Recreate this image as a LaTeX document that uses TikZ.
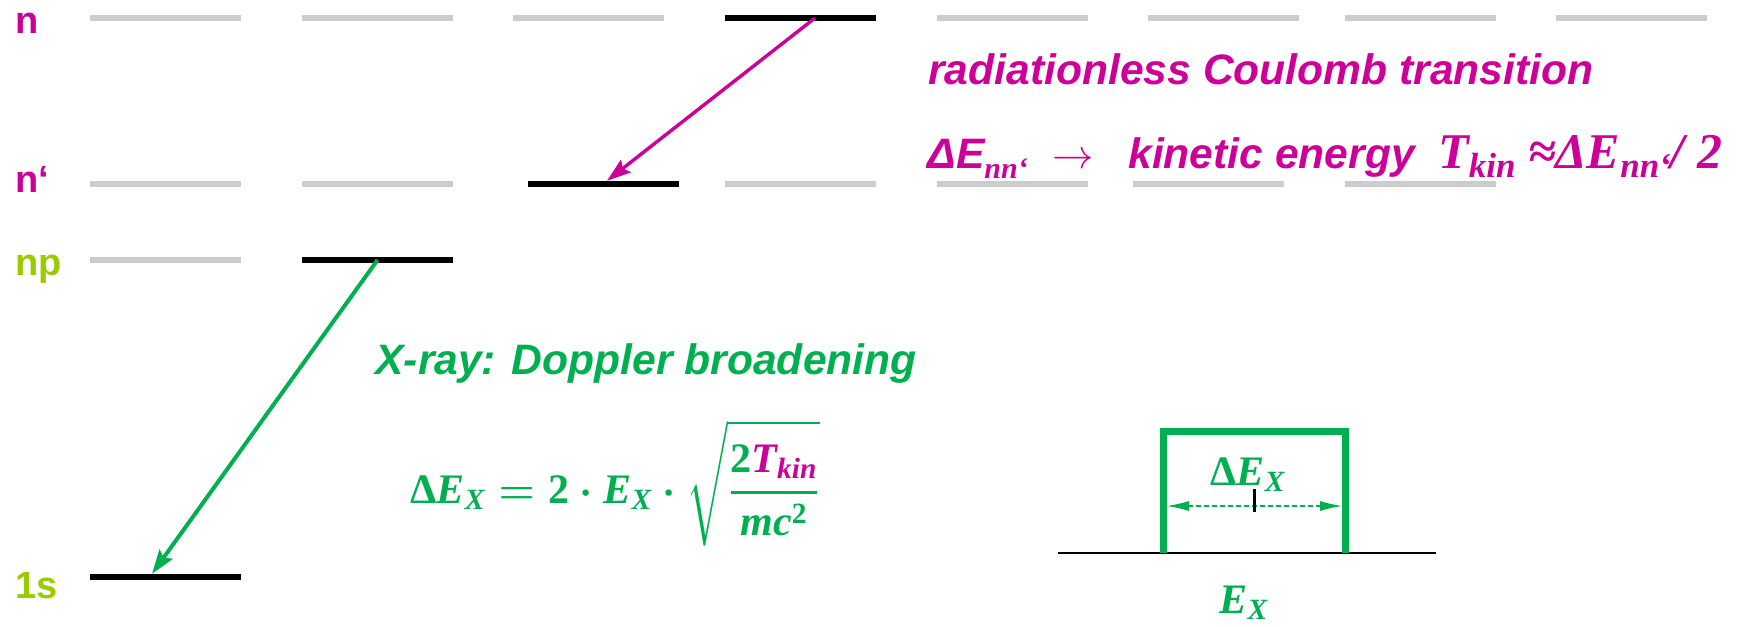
\documentclass[tikz,border=0pt]{standalone}
\usepackage{amsmath}
\usepackage[no-math]{fontspec}
\setmainfont{Liberation Sans}
\newfontfamily\timesbi{Liberation Serif}
\usepackage{xcolor}
\usepackage{tikz}
\usetikzlibrary{arrows.meta, positioning}
\definecolor{nColor}{RGB}{204, 0, 153}
\definecolor{sColor}{RGB}{153, 204, 0}
\definecolor{xColor}{RGB}{0, 176, 80}
\definecolor{lvGray}{RGB}{204, 204, 204}
\newcommand{\bigtxt}{\fontsize{21.3pt}{25pt}\selectfont\bfseries\itshape}
\newcommand{\bigtimes}{\timesbi\fontsize{25pt}{29pt}\selectfont\bfseries\itshape}
\newcommand{\lowidx}[1]{\raisebox{-0.25em}{\timesbi\bfseries\itshape\fontsize{15pt}{17pt}\selectfont #1}}
\newcommand{\lowidxb}[1]{\raisebox{-0.2em}{\timesbi\bfseries\itshape\fontsize{17.5pt}{20pt}\selectfont #1}}
\newcommand{\mi}[1]{\text{\timesbi\bfseries\itshape #1}}
\newcommand{\mb}[1]{\text{\timesbi\bfseries #1}}
\newsavebox{\doppbox}
\newsavebox{\dexbox}
\newsavebox{\exbox}

\begin{document}
\sbox{\doppbox}{\fontsize{21pt}{25pt}\selectfont\color{xColor}\boldmath
    $\mb{Δ}\mi{E}_{\mi{X}} = \mb{2}\cdot\mi{E}_{\mi{X}}\cdot
    \sqrt{\rule[-0.9em]{0pt}{2.6em}\genfrac{}{}{1.6pt}{0}{\mb{2}\textcolor{nColor}{\mi{T}_{\mi{kin}}}}{\mi{mc}^{\mb{2}}}}$}
\sbox{\dexbox}{\fontsize{21pt}{25pt}\selectfont\color{xColor}$\mb{Δ}\mi{E}_{\mi{X}}$}
\sbox{\exbox}{\fontsize{21pt}{25pt}\selectfont\color{xColor}$\mi{E}_{\mi{X}}$}
\begin{tikzpicture}[x=0.5pt, y=-0.5pt,
    lvl/.style={rectangle, fill=lvGray, minimum width=75.5pt, minimum height=2.8pt, inner sep=0pt},
    hit/.style={lvl, fill=black},
    lab/.style={inner sep=0pt, anchor=base west, font=\fontsize{19pt}{21pt}\selectfont\bfseries},
    txt/.style={inner sep=0pt, anchor=base west, font=\bigtxt},
    fml/.style={inner sep=0pt},
    trans/.style={-{Stealth[length=12pt, width=8pt, inset=2pt]}}]

    \useasboundingbox (0,0) rectangle (1743,626);

    \node (ln) [lab, text=nColor] at (15,34) {n};
    \node (lnq) [lab, text=nColor] at (15,192) {n‘};
    \node (lnp) [lab, text=sColor] at (15,275) {np};
    \node (l1s) [lab, text=sColor] at (15,598) {1s};

    \node (n1) [lvl] at (165.5,18) {};
    \node (n2) [lvl] at (377.5,18) {};
    \node (n3) [lvl] at (588.5,18) {};
    \node (n4) [hit] at (800.5,18) {};
    \node (n5) [lvl] at (1012.5,18) {};
    \node (n6) [lvl] at (1223.5,18) {};
    \node (n7) [lvl] at (1420.5,18) {};
    \node (n8) [lvl] at (1631,18) {};

    \node (q1) [lvl] at (165.5,184) {};
    \node (q2) [lvl] at (377.5,184) {};
    \node (q3) [hit] at (603.5,184) {};
    \node (q4) [lvl] at (800.5,184) {};
    \node (q5) [lvl] at (1012.5,184) {};
    \node (q6) [lvl] at (1208.5,184) {};
    \node (q7) [lvl] at (1420.5,184) {};

    \node (p1) [lvl] at (165.5,260) {};
    \node (p2) [hit] at (377.5,260) {};
    \node (s1) [hit] at (165.5,577) {};

    \draw[trans, nColor, line width=1.7pt] ([xshift=7.25pt]n4.center) -- ([xshift=1.75pt]q3.north);
    \draw[trans, xColor, line width=2pt] (p2.center) -- ([xshift=-6.75pt]s1.north);

    \node (coul) [txt, text=nColor] at (928,85) {radiationless Coulomb transition};
    \node (den) [txt, text=nColor] at (927,168) {ΔE\lowidx{nn‘}};
    \node (arr) [txt, text=nColor, font=\fontsize{21pt}{25pt}\selectfont] at (1052,168) {$\rightarrow$};
    \node (kin) [txt, text=nColor] at (1128,168) {kinetic energy};
    \node (tkin) [txt, text=nColor, font=\bigtimes] at (1438,168) {T\lowidxb{kin} ≈ΔE\lowidxb{nn‘}/ 2};

    \node (xray) [txt, text=xColor] at (375,374) {X-ray: Doppler broadening};
    \node (dopp) [fml, anchor=base west] at (410,503) {\usebox{\doppbox}};

    \coordinate (a0) at (1058,553);
    \coordinate (a1) at (1436,553);
    \coordinate (bl) at (1163.5,553);
    \coordinate (tl) at (1163.5,431);
    \coordinate (tr) at (1345,431);
    \coordinate (br) at (1345,553);
    \coordinate (dl) at (1167,506);
    \coordinate (dr) at (1342,506);
    \draw[line width=1pt] (a0) -- (a1);
    \draw[xColor, line width=3.5pt] (bl) -- (tl) -- (tr) -- (br);
    \draw[xColor, line width=0.6pt, dash pattern=on 2.5pt off 1.5pt,
        {Latex[length=11pt, width=5pt]}-{Latex[length=11pt, width=5pt]}] (dl) -- (dr);
    \draw[line width=1.5pt] (1254,489) -- (1254,512);
    \node (dex) [fml, anchor=base west] at (1210,485) {\usebox{\dexbox}};
    \node (ex) [fml, anchor=base] at (1244,613) {\usebox{\exbox}};

\end{tikzpicture}
\end{document}
